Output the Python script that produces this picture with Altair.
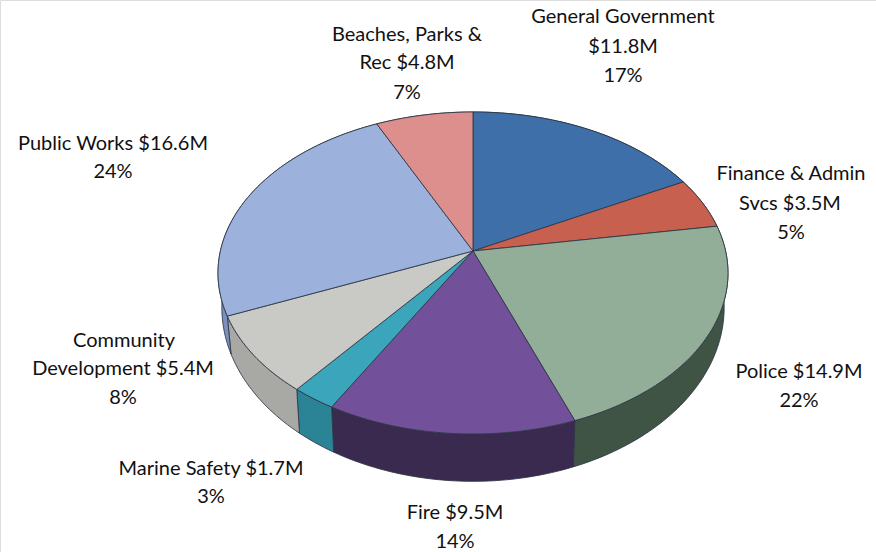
import math
import altair as alt
import pandas as pd

# Budget by department, clockwise from twelve o'clock
departments = ["General Government", "Finance & Admin Svcs", "Police", "Fire",
               "Marine Safety", "Community Development", "Public Works",
               "Beaches, Parks & Rec"]
budget_musd = [11.8, 3.5, 14.9, 9.5, 1.7, 5.4, 16.6, 4.8]
top_colors = ["#3e6fa8", "#c8604f", "#92ae98", "#73509a",
              "#3aa5bb", "#c9c9c6", "#9cb2dc", "#dc8f8c"]
side_colors = ["#2c4f78", "#8c4337", "#3f5445", "#3a2a4f",
               "#2a8496", "#a8a8a4", "#7b90c0", "#9c6563"]

# Label lines: text, centre x and baseline-middle y on the page grid
label_text = ["General Government", "$11.8M", "17%",
              "Finance & Admin", "Svcs $3.5M", "5%",
              "Police $14.9M", "22%",
              "Fire $9.5M", "14%",
              "Marine Safety $1.7M", "3%",
              "Community", "Development $5.4M", "8%",
              "Public Works $16.6M", "24%",
              "Beaches, Parks &", "Rec $4.8M", "7%"]
label_x = [623, 623, 623, 791, 790, 791, 799, 799, 455, 455,
           211, 211, 124, 123, 123, 113, 113, 407, 407, 407]
label_y = [17, 47, 76, 174, 204, 233, 372, 401, 513, 542,
           469, 497, 341, 369, 398, 144, 172, 35, 63, 93]

# Tilted-disc projection: apex of the pie and perspective constants
APEX_X, APEX_Y = 473, 251
RADIUS_X, RADIUS_Y, TILT = 252.6, 158.0, 0.1366
# The lower rim of the extruded disc
DEPTH, RIM_SCALE_X, RIM_SCALE_Y = 32.7, 0.985, 1.08


def top_rim(theta):
    u, v = math.sin(theta), math.cos(theta)
    w = 1 + TILT * v
    return RADIUS_X * u / w, -RADIUS_Y * v / w


def project_top(theta):
    dx, dy = top_rim(theta)
    return APEX_X + dx, APEX_Y + dy


def project_bottom(theta):
    dx, dy = top_rim(theta)
    return APEX_X + RIM_SCALE_X * dx, APEX_Y + RIM_SCALE_Y * dy + DEPTH


def frame(points):
    return pd.DataFrame({"px": [p[0] for p in points],
                         "py": [p[1] for p in points],
                         "i": range(len(points))})


X = alt.X("px:Q", axis=None, scale=alt.Scale(domain=[0, 876], nice=False, zero=False))
Y = alt.Y("py:Q", axis=None, scale=alt.Scale(domain=[552, 0], nice=False, zero=False))


def polygon(points, fill):
    return alt.Chart(frame(points)).mark_line(
        fill=fill, stroke="#2b3644", strokeWidth=1, strokeOpacity=0.85,
        strokeJoin="round", clip=False
    ).encode(x=X, y=Y, order="i:Q")


total = sum(budget_musd)
sides, faces = [], []
running = 0.0
for value, top_c, side_c in zip(budget_musd, top_colors, side_colors):
    start = running / total * 2 * math.pi
    running += value
    end = running / total * 2 * math.pi
    steps = max(4, int((end - start) / 0.02))
    angles = [start + (end - start) * k / steps for k in range(steps + 1)]
    rim = [project_top(t) for t in angles]
    lower = [project_bottom(t) for t in reversed(angles)]
    sides.append(polygon(rim + lower + rim[:1], side_c))
    faces.append(polygon([(APEX_X, APEX_Y)] + rim + [(APEX_X, APEX_Y)], top_c))

labels = alt.Chart(pd.DataFrame({"px": label_x, "py": label_y, "t": label_text})).mark_text(
    font="Lato", fontSize=20, color="#111111", align="center", baseline="middle"
).encode(x=X, y=Y, text="t:N")

chart = alt.layer(*sides, *faces, labels).properties(
    width=876, height=552, padding=0,
    autosize=alt.AutoSizeParams(type="none")
).configure_view(stroke=None).configure(background="white")

chart.save("out.html", embed_options={"renderer": "svg", "actions": False})
